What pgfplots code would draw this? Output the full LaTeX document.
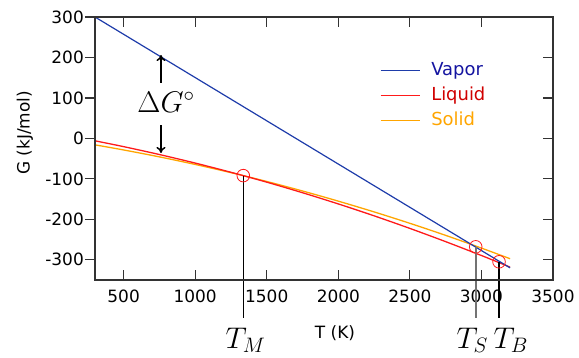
\RequirePackage{fix-cm}
\documentclass[border=0pt]{standalone}
\usepackage[no-math]{fontspec}
\setmainfont{DejaVu Sans}
\usepackage{pgfplots}
\pgfplotsset{compat=1.18}
\usetikzlibrary{arrows.meta}
\definecolor{vap}{HTML}{1E3CAA}
\definecolor{vaptext}{HTML}{1414A0}
\definecolor{liq}{HTML}{FF1A1A}
\definecolor{liqtext}{HTML}{D00000}
\definecolor{sol}{HTML}{FFA500}
\definecolor{frame}{HTML}{333333}
\newcommand{\fs}{\fontsize{17}{20}\selectfont}
\newcommand{\legfs}{\fontsize{18}{21}\selectfont}
\newcommand{\bigmathfont}{\fontsize{30}{35}\selectfont}

\pgfplotstableread{
T G
300 -6
500 -20.4
750 -39.9
1000 -61.0
1250 -83.8
1500 -108.2
1750 -134.3
2000 -162.0
2250 -191.4
2500 -222.5
2750 -255.2
3000 -289.5
3200 -318.2
}\liquid
\pgfplotstableread{
T G
300 -16
500 -28.6
750 -45.7
1000 -64.4
1250 -84.7
1500 -106.5
1750 -130.0
2000 -155.1
2250 -181.7
2500 -209.9
2750 -239.7
3000 -271.1
3200 -297.4
}\solid

\begin{document}
\begin{tikzpicture}
\pgfplotsset{
  common/.style={
    scale only axis, width=458bp, height=263bp,
    xmin=300, xmax=3500, ymin=-350, ymax=300,
    axis line style={frame, line width=1.2bp},
    major tick style={frame, line width=1.2bp},
    major tick length=10bp,
    tick label style={font=\fs},
    label style={font=\fs},
    clip=false,
  }
}
\begin{axis}[common, name=ax,
  xtick={500,1000,...,3500},
  xticklabels={500,1000,1500,2000,2500,3000,3500},
  xticklabel style={yshift=-6bp},
  ytick={-300,-200,...,300}, yticklabels={},
  tick align=inside, ytick pos=right,
  xlabel={T (K)},
  xlabel style={at={(axis description cs:0.524,-0.2015)}, anchor=center},
  legend style={at={(axis description cs:0.622,0.701)}, anchor=west,
    draw=none, fill=none, inner sep=0pt, column sep=11bp, row sep=7bp,
    nodes={inner sep=0pt, font=\legfs, text height=14bp, text depth=4bp}},
  legend cell align=left,
  legend image code/.code={\draw[#1] (0bp,0bp) -- (39bp,0bp);},
]
\addlegendimage{vap, line width=1.2bp}
\addlegendentry{\textcolor{vaptext}{Vapor}}
\addlegendimage{liq, line width=1.2bp}
\addlegendentry{\textcolor{liqtext}{Liquid}}
\addlegendimage{sol, line width=1.2bp}
\addlegendentry{\textcolor{sol}{Solid}}

\addplot[sol, line width=1.3bp, smooth, forget plot] table[x=T, y=G] {\solid};
\addplot[liq, line width=1.3bp, smooth, forget plot] table[x=T, y=G] {\liquid};
\addplot[vap, line width=1.2bp, forget plot] coordinates {(300,300) (3200,-320)};

\addplot[black, line width=1.2bp, forget plot] coordinates {(1336,-92) (1336,-444)};
\addplot[black!55, line width=1.6bp, forget plot] coordinates {(2960,-268) (2960,-444)};
\addplot[black, line width=1.2bp, forget plot] coordinates {(3123,-305) (3123,-444)};
\addplot[only marks, mark=o, mark size=6.3bp, mark options={liq, line width=0.8bp}, forget plot]
  coordinates {(1336,-92) (2960,-268) (3123,-305)};

\addplot[black, line width=1.5bp, -{To[length=6bp,width=9bp]}, forget plot] coordinates {(761,137) (761,206)};
\addplot[black, line width=1.5bp, -{To[length=6bp,width=9bp]}, forget plot] coordinates {(761,33) (761,-36)};

\node[font=\bigmathfont] at (axis cs:796,90) {$\Delta G^\circ$};
\node[font=\bigmathfont, anchor=base] at (axis cs:1352,-519) {$T_M$};
\node[font=\bigmathfont, anchor=base] at (axis cs:2936,-519) {$T_S$};
\node[font=\bigmathfont, anchor=base] at (axis cs:3205,-519) {$T_B$};
\end{axis}
\begin{axis}[common, at={(ax.south west)}, anchor=south west,
  xtick=\empty,
  ytick={-300,-200,...,300},
  yticklabels={-300,-200,-100,0,100,200,300},
  ytick pos=left, tick align=outside,
  yticklabel style={inner sep=1bp},
  ylabel={G (kJ/mol)},
  ylabel style={at={(axis description cs:-0.153,0.559)}, anchor=center},
]
\end{axis}
\pgfresetboundingbox
\path ([shift={(-95bp,-78bp)}]ax.south west) rectangle ([shift={(26bp,17bp)}]ax.north east);
\end{tikzpicture}
\end{document}
